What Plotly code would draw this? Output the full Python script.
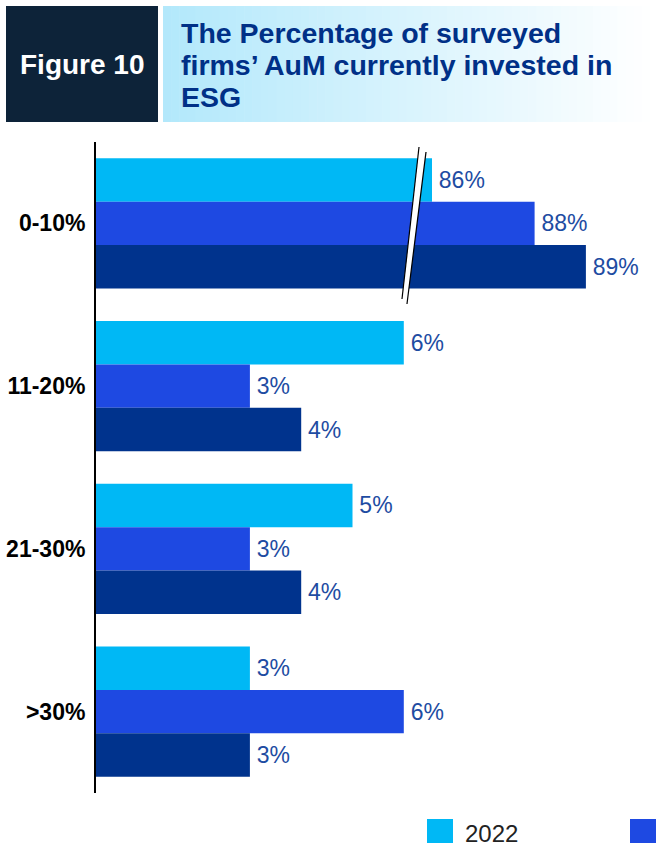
import plotly.graph_objects as go
from plotly.subplots import make_subplots

# Survey data: share of firms by % of AuM invested in ESG
categories = ["0-10%", "11-20%", "21-30%", ">30%"]
years = ["2022", "2021", "2020"]
values_2022 = [86, 6, 5, 3]
values_2021 = [88, 3, 3, 6]
values_2020 = [89, 4, 4, 3]
series = [values_2022, values_2021, values_2020]
colors = ["#00B8F5", "#1E49E2", "#00338D"]

title_lines = ["The Percentage of surveyed", "firms’ AuM currently invested in", "ESG"]
figure_label = "Figure 10"

W, H = 658, 843
ML, MR, MT, MB = 96, 10, 142, 50
PW, PH = W - ML - MR, H - MT - MB

# broken value axis: low segment 0..~6 %, high segment ~85.6..~90 %
px_per_pct = 51.3
break_px = 412
split = (break_px - ML) / PW
low_max = (break_px - ML) / px_per_pct
high_min = 86 - (432 - break_px) / px_per_pct
high_max = high_min + (W - MR - break_px) / px_per_pct


def xp(px):
    return (px - ML) / PW


def yp(py):
    return (H - MB - py) / PH


def fmt(v):
    # small leading space keeps the label clear of the bar end
    return f"\u2006{v}%"


fig = make_subplots(rows=1, cols=2, shared_yaxes=True, horizontal_spacing=0,
                    column_widths=[split, 1 - split])

label_font = dict(family="Liberation Sans", size=23, color="#1E4CA2")
for name, vals, col in zip(years, series, colors):
    low_text = [fmt(v) if v <= low_max else "" for v in vals]
    high_text = [fmt(v) if v >= high_min else "" for v in vals]
    fig.add_trace(go.Bar(y=categories, x=vals, orientation="h", name=name,
                         marker=dict(color=col, line=dict(width=0)),
                         text=low_text, textposition="outside", textfont=label_font,
                         cliponaxis=False, showlegend=False, hoverinfo="skip"),
                  row=1, col=1)
    fig.add_trace(go.Bar(y=categories, x=vals, orientation="h", name=name,
                         marker=dict(color=col, line=dict(width=0)),
                         text=high_text, textposition="outside", textfont=label_font,
                         cliponaxis=False, showlegend=False, hoverinfo="skip"),
                  row=1, col=2)

fig.update_xaxes(visible=False, showgrid=False, zeroline=False)
fig.update_xaxes(range=[0, low_max], row=1, col=1)
fig.update_xaxes(range=[high_min, high_max], row=1, col=2)
fig.update_yaxes(autorange="reversed", showgrid=False, zeroline=False)
fig.update_yaxes(showline=True, linecolor="#000000", linewidth=2, ticks="",
                 ticklabelstandoff=4,
                 tickfont=dict(family="Liberation Sans", size=23, color="#000000", weight="bold"),
                 row=1, col=1)
fig.update_yaxes(showticklabels=False, row=1, col=2)

shapes = []
annotations = []

# axis break marker: white slanted band outlined by two black lines
bx = break_px
shapes.append(dict(type="path", xref="paper", yref="paper",
                   path=(f"M{xp(bx + 7)},{yp(147)} L{xp(bx + 14)},{yp(152)} "
                         f"L{xp(bx - 5)},{yp(304)} L{xp(bx - 10)},{yp(299)} Z"),
                   fillcolor="#FFFFFF", line=dict(width=0)))
shapes.append(dict(type="line", xref="paper", yref="paper",
                   x0=xp(bx + 7), y0=yp(147), x1=xp(bx - 10), y1=yp(299),
                   line=dict(color="#000000", width=1.2)))
shapes.append(dict(type="line", xref="paper", yref="paper",
                   x0=xp(bx + 14), y0=yp(152), x1=xp(bx - 5), y1=yp(304),
                   line=dict(color="#000000", width=1.2)))

# header: dark label box
shapes.append(dict(type="rect", xref="paper", yref="paper",
                   x0=xp(6), x1=xp(158), y0=yp(122), y1=yp(6),
                   fillcolor="#0D2339", line=dict(width=0)))
annotations.append(dict(text=f"<b>{figure_label}</b>", xref="paper", yref="paper",
                        x=xp(82), y=yp(64), xanchor="center", yanchor="middle",
                        showarrow=False,
                        font=dict(family="Liberation Sans", size=28, color="#FFFFFF")))

# header: light-blue title band fading to white
g0, g1 = 163, 650
n_strips = 60
c0 = (178, 232, 251)
for i in range(n_strips):
    a = g0 + (g1 - g0) * i / n_strips
    b = g0 + (g1 - g0) * (i + 1) / n_strips + 0.6
    t = (i + 0.5) / n_strips
    c = tuple(round(c0[k] + (255 - c0[k]) * t) for k in range(3))
    shapes.append(dict(type="rect", xref="paper", yref="paper",
                       x0=xp(a), x1=xp(min(b, g1)), y0=yp(122), y1=yp(6),
                       fillcolor=f"rgb{c}", line=dict(width=0), layer="below"))
for line, cy in zip(title_lines, [33, 65, 97]):
    annotations.append(dict(text=f"<b>{line}</b>", xref="paper", yref="paper",
                            x=xp(179), y=yp(cy), xanchor="left", yanchor="middle",
                            showarrow=False,
                            font=dict(family="Liberation Sans", size=28.5, color="#003087")))

# legend swatches along the bottom edge
for i, (name, col) in enumerate(zip(years, colors)):
    x0 = 427 + 203 * i
    shapes.append(dict(type="rect", xref="paper", yref="paper",
                       x0=xp(x0), x1=xp(x0 + 26), y0=yp(845), y1=yp(819),
                       fillcolor=col, line=dict(width=0)))
    annotations.append(dict(text=name, xref="paper", yref="paper",
                            x=xp(x0 + 36), y=yp(834), xanchor="left", yanchor="middle",
                            showarrow=False,
                            font=dict(family="Liberation Sans", size=24, color="#222222")))

fig.update_layout(
    width=W, height=H,
    margin=dict(l=ML, r=MR, t=MT, b=MB, autoexpand=False),
    barmode="group", bargap=0.2, bargroupgap=0,
    plot_bgcolor="#FFFFFF", paper_bgcolor="#FFFFFF",
    showlegend=False,
    shapes=shapes, annotations=annotations,
)

fig.write_html("out.html")
